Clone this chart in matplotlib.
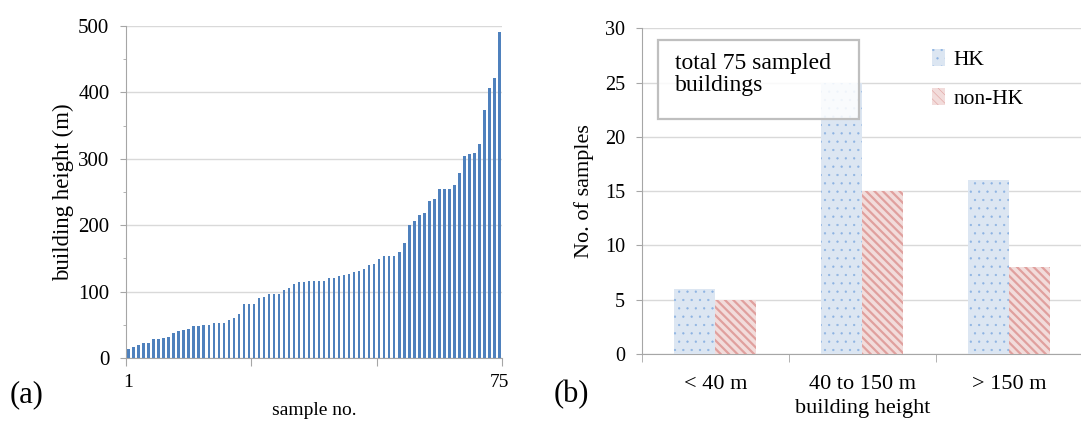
import numpy as np
import matplotlib
matplotlib.use("Agg")
from matplotlib import pyplot as plt
from matplotlib.patches import Patch, Rectangle

plt.rcParams['font.family'] = ['Liberation Serif', 'DejaVu Serif']

# (a) building heights of the 75 samples, sorted
heights = [13, 17, 19, 22, 23, 28, 28, 30, 32, 38, 40, 42, 43, 48, 48, 50, 50, 52, 53, 53,
           58, 60, 66, 81, 81, 81, 91, 92, 96, 96, 96, 103, 105, 112, 115, 115,
           116, 116, 116, 116, 120, 120, 123, 125, 127, 130, 131, 134, 140, 142,
           149, 153, 153, 154, 159, 173, 200, 206, 215, 218, 236, 240, 254, 254,
           255, 260, 279, 304, 308, 309, 323, 373, 406, 421, 491]
sample_no = np.arange(1, len(heights) + 1)

# (b) counts by height class
classes = ["< 40 m", "40 to 150 m", "> 150 m"]
hk = [6, 25, 16]
non_hk = [5, 15, 8]

grid_c = "#d9d9d9"
axis_c = "#a6a6a6"
blue = "#4f81bd"
hk_fill, hk_dot = "#dce6f2", "#8db3e2"
nhk_fill, nhk_line = "#f2dcdb", "#e0a09e"


def hatch_lw(artists, lw):
    for a in artists:
        if hasattr(a, "set_hatch_linewidth"):
            a.set_hatch_linewidth(lw)


fig = plt.figure(figsize=(10.81, 4.21), dpi=100)

# ---- (a)
ax1 = fig.add_axes([0.1166, 0.1496, 0.3478, 0.7886])
ax1.bar(sample_no, heights, width=0.5, color=blue, edgecolor="none", zorder=3)
ax1.set_xlim(0.5, 75.5)
ax1.set_ylim(0, 500)
ax1.set_yticks(np.arange(0, 501, 100))
ax1.set_yticks(np.arange(50, 500, 100), minor=True)
ax1.yaxis.grid(True, color=grid_c, linewidth=1.0, zorder=0)
ax1.set_xticks([0.5, 25.5, 50.5, 75.5])
ax1.set_xticklabels([])
for s in ["top", "right"]:
    ax1.spines[s].set_visible(False)
for s in ["left", "bottom"]:
    ax1.spines[s].set_color(axis_c)
ax1.tick_params(axis="both", which="both", color=axis_c, direction="out", labelsize=15)
ax1.tick_params(axis="x", length=6)
ax1.tick_params(axis="y", length=4, pad=8)
ax1.text(1, -24, "1", ha="center", va="top", fontsize=14)
ax1.text(75, -24, "75", ha="center", va="top", fontsize=14)
ax1.set_ylabel("building height (m)", fontsize=16.5, labelpad=3)
ax1.set_xlabel("sample no.", fontsize=14, labelpad=22)
fig.text(0.009, 0.045, "(a)", fontsize=22)

# ---- (b)
ax2 = fig.add_axes([0.5936, 0.1591, 0.408, 0.7736])
x = np.arange(len(classes))
w = 0.28
b1 = ax2.bar(x - w / 2, hk, width=w, color=hk_fill, edgecolor=hk_dot, hatch="..",
             linewidth=0, zorder=3)
b2 = ax2.bar(x + w / 2, non_hk, width=w, color=nhk_fill, edgecolor=nhk_line, hatch="\\\\\\\\",
             linewidth=0, zorder=3)
hatch_lw(b1, 0.4)
hatch_lw(b2, 1.6)
ax2.set_xlim(-0.5, 2.5)
ax2.set_ylim(0, 30)
ax2.set_yticks(np.arange(0, 31, 5))
ax2.yaxis.grid(True, color=grid_c, linewidth=1.0, zorder=0)
ax2.set_xticks(x)
ax2.set_xticklabels(classes)
ax2.set_xticks([-0.5, 0.5, 1.5, 2.5], minor=True)
ax2.tick_params(axis="x", which="major", length=0, pad=15, labelsize=16)
ax2.tick_params(axis="x", which="minor", length=6, color=axis_c)
ax2.tick_params(axis="y", length=4, color=axis_c, labelsize=14.5, pad=8)
for s in ["top", "right"]:
    ax2.spines[s].set_visible(False)
for s in ["left", "bottom"]:
    ax2.spines[s].set_color(axis_c)
ax2.set_ylabel("No. of samples", fontsize=16, labelpad=8)
ax2.set_xlabel("building height", fontsize=16, labelpad=4)

box = Rectangle((0.037, 0.7215), 0.455, 0.2425, transform=ax2.transAxes, fill=True,
                facecolor="white", alpha=0.85, edgecolor="none", zorder=5)
ax2.add_patch(box)
frame = Rectangle((0.037, 0.7215), 0.455, 0.2425, transform=ax2.transAxes, fill=False,
                  edgecolor="#bfbfbf", linewidth=1.6, zorder=6)
ax2.add_patch(frame)
ax2.text(0.075, 0.925, "total 75 sampled\nbuildings", transform=ax2.transAxes,
         fontsize=17, va="top", ha="left", linespacing=1.1, zorder=7)

handles = [Patch(facecolor=hk_fill, edgecolor=hk_dot, hatch="..", linewidth=0, label="HK"),
           Patch(facecolor=nhk_fill, edgecolor=nhk_line, hatch="\\\\\\\\", linewidth=0, label="non-HK")]
leg = ax2.legend(handles=handles, loc="upper left", bbox_to_anchor=(0.615, 0.995), frameon=False,
                 fontsize=15.5, handlelength=0.6, handleheight=0.8, handletextpad=0.4,
                 labelspacing=0.85)
hatch_lw(leg.get_patches(), 0.4)
fig.text(0.512, 0.045, "(b)", fontsize=22)

fig.savefig("out.png", dpi=100)
